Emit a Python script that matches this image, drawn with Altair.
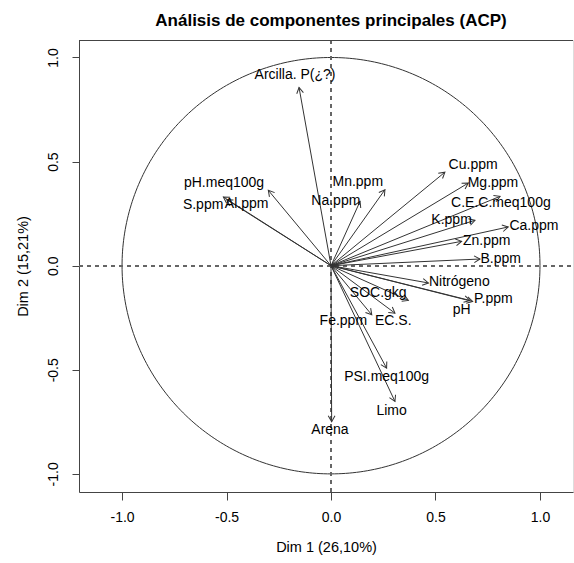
import altair as alt
import pandas as pd

# Variable loadings on the first two principal components
variables = ["Arcilla. P(¿?)", "pH.meq100g", "S.ppm", "Al.ppm", "Na.ppm", "Mn.ppm",
             "Cu.ppm", "Mg.ppm", "C.E.C.meq100g", "K.ppm", "Ca.ppm", "Zn.ppm", "B.ppm",
             "Nitrógeno", "P.ppm", "pH", "SOC.gkg", "Fe.ppm", "EC.S.", "PSI.meq100g",
             "Limo", "Arena"]
dim1 = [-0.153, -0.300, -0.515, -0.499, 0.139, 0.258, 0.545, 0.657, 0.809, 0.689,
        0.848, 0.625, 0.713, 0.466, 0.678, 0.665, 0.370, 0.195, 0.306, 0.266, 0.306, 0.003]
dim2 = [0.856, 0.362, 0.330, 0.317, 0.309, 0.365, 0.449, 0.397, 0.333, 0.218,
        0.186, 0.117, 0.032, -0.083, -0.172, -0.167, -0.167, -0.236, -0.228, -0.492,
        -0.652, -0.749]

# Where each variable name is written (centre of the text, in loading units)
label_x = [-0.172, -0.512, -0.612, -0.404, 0.023, 0.128, 0.680, 0.775, 0.813, 0.577,
           0.971, 0.745, 0.812, 0.614, 0.777, 0.625, 0.226, 0.059, 0.298, 0.266,
           0.290, -0.005]
label_y = [0.918, 0.398, 0.293, 0.297, 0.309, 0.400, 0.486, 0.398, 0.301, 0.221,
           0.192, 0.117, 0.034, -0.080, -0.160, -0.215, -0.131, -0.268, -0.268, -0.535,
           -0.696, -0.788]

tick_values = [-1.0, -0.5, 0.0, 0.5, 1.0]

X_DOMAIN = [-1.206, 1.158]
Y_DOMAIN = [-1.087, 1.084]
FONT = "Liberation Sans"
INK = "#333333"
FRAME = "#444444"
DASH = "#666666"

loadings = pd.DataFrame({"var": variables, "d1": dim1, "d2": dim2})
labels = pd.DataFrame({"var": variables, "lx": label_x, "ly": label_y})

xs = alt.Scale(domain=X_DOMAIN, nice=False, zero=False)
ys = alt.Scale(domain=Y_DOMAIN, nice=False, zero=False)

neg_fmt = "datum.value < 0 ? '-' + format(abs(datum.value), '.1f') : format(datum.value, '.1f')"

x_axis = alt.Axis(values=tick_values, labelExpr=neg_fmt, grid=False, tickSize=8,
                  labelPadding=10, labelFontSize=14, labelFont=FONT, labelColor="black",
                  tickColor=FRAME, domainColor=FRAME, title="Dim 1 (26,10%)",
                  titleFont=FONT, titleFontSize=14.5, titleFontWeight="normal",
                  titleColor="black", titlePadding=16)
y_axis = alt.Axis(values=tick_values, labelExpr=neg_fmt, grid=False, tickSize=7,
                  labelPadding=12, labelFontSize=14, labelFont=FONT, labelColor="black",
                  labelAngle=270, labelAlign="center", labelBaseline="bottom",
                  tickColor=FRAME, domainColor=FRAME, title="Dim 2 (15,21%)",
                  titleFont=FONT, titleFontSize=14.5, titleFontWeight="normal",
                  titleColor="black", titlePadding=16)

base = alt.Chart(loadings)

# Unit circle of correlations
circle = alt.Chart(alt.sequence(0, 361, 1, as_="deg")).transform_calculate(
    cx="cos(datum.deg * PI / 180)", cy="sin(datum.deg * PI / 180)"
).mark_line(color=INK, strokeWidth=1, clip=True).encode(
    x=alt.X("cx:Q", scale=xs, axis=x_axis),
    y=alt.Y("cy:Q", scale=ys, axis=y_axis),
    order="deg:Q",
)

# Dashed zero lines
zero_h = base.mark_rule(color=DASH, strokeWidth=1, strokeDash=[4, 4]).encode(
    y=alt.datum(0, scale=ys), x=alt.value(0), x2=alt.value(494))
zero_v = base.mark_rule(color=DASH, strokeWidth=1, strokeDash=[4, 4]).encode(
    x=alt.datum(0, scale=xs), y=alt.value(0), y2=alt.value(452))

# Top edge of the frame
frame_top = base.mark_rule(color=FRAME, strokeWidth=1).encode(
    x=alt.value(0), x2=alt.value(494), y=alt.value(0.5))

# Arrow shafts from the origin
shafts = base.transform_calculate(ox="0", oy="0").mark_rule(
    color=INK, strokeWidth=1).encode(
    x=alt.X("ox:Q", scale=xs), y=alt.Y("oy:Q", scale=ys),
    x2="d1:Q", y2="d2:Q")

# Open arrow heads, rotated along each shaft
heads = base.transform_calculate(
    ang="(atan2(datum.d1, datum.d2) * 180 / PI + 360) % 360"
).mark_point(shape="M -0.55 0.95 L 0 0 L 0.55 0.95", filled=False, stroke=INK,
             strokeWidth=1, size=150, opacity=1).encode(
    x=alt.X("d1:Q", scale=xs), y=alt.Y("d2:Q", scale=ys),
    angle=alt.Angle("ang:Q", scale=None))

names = alt.Chart(labels).mark_text(font=FONT, fontSize=14, color="black",
                                    align="center", baseline="middle").encode(
    x=alt.X("lx:Q", scale=xs), y=alt.Y("ly:Q", scale=ys), text="var:N")

chart = alt.layer(circle, zero_h, zero_v, frame_top, shafts, heads, names).properties(
    width=494, height=452,
    title=alt.Title("Análisis de componentes principales (ACP)", font=FONT,
                    fontSize=17, fontWeight="bold", color="black", anchor="middle",
                    dx=5, offset=10),
    padding={"left": 79, "top": 40, "right": 1, "bottom": 71},
    autosize=alt.AutoSizeParams(type="none"),
).configure_view(stroke=None).configure(background="white")

chart.save("out.html", embed_options={"renderer": "svg", "actions": False})
